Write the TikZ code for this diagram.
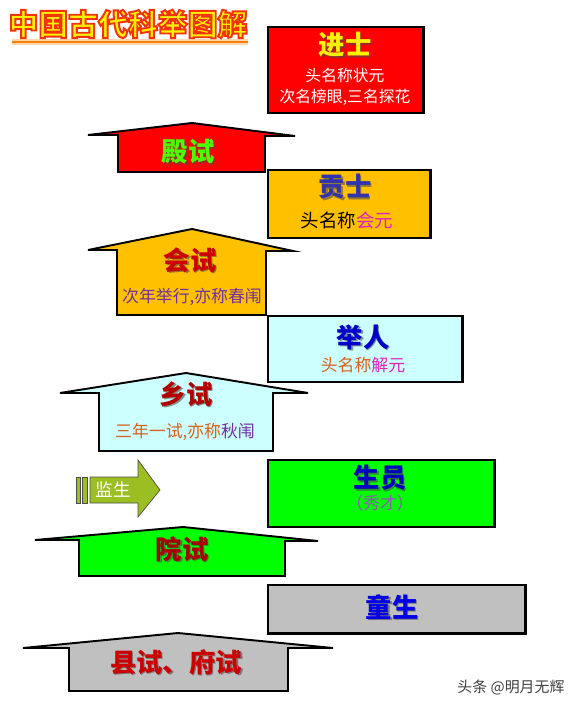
\documentclass[tikz,border=0pt]{standalone}
\usepackage{fontspec}
\setmainfont{Noto Sans CJK SC}

\definecolor{boxred}{HTML}{FF0000}
\definecolor{boxgold}{HTML}{FFC000}
\definecolor{boxcyan}{HTML}{CCFFFF}
\definecolor{boxgreen}{HTML}{00FF00}
\definecolor{boxgray}{HTML}{C0C0C0}
\definecolor{olivearrow}{HTML}{9BBE22}
\definecolor{titlepurple}{HTML}{7030A0}
\definecolor{titleorange}{HTML}{D9601A}
\definecolor{titlemagenta}{HTML}{E020C0}

\tikzset{
  stagebox/.style={draw=black, line width=1.7pt},
  roof/.style={draw=black, line width=1.1pt, line join=miter},
  head/.style={font=\bfseries\fontsize{15}{15}\selectfont},
  sub/.style={font=\fontsize{9.6}{10}\selectfont},
}
% heading with a soft drop shadow: name, x, y, colour, text
\newcommand{\shtext}[5]{%
  \node[head, text=black!70, opacity=0.6] at (#2+1.5,#3+1.5) {#5};
  \node[head, text=#4] (#1) at (#2,#3) {#5};}
% outlined title text (fill yellow, stroke red)
\newcommand{\outlined}[1]{%
  \special{pdf:literal direct 0.95 0.2 0.05 RG 1.1 w 2 Tr}#1\special{pdf:literal direct 0 Tr}}

\begin{document}
\begin{tikzpicture}[x=0.02cm,y=-0.02cm]
\useasboundingbox (0,0) rectangle (575,719);

% title
\draw[orange!60, line width=3pt, opacity=0.5] (12,42) -- (248,42);
\draw[orange, line width=1.4pt] (12,42) -- (248,42);
\node[font=\bfseries\fontsize{17}{17}\selectfont, text=yellow] (title) at (128,24)
  {\outlined{中国古代科举图解}};

% upper stage boxes
\draw[stagebox, fill=boxred]   (268,27)  rectangle (423,113);
\draw[stagebox, fill=boxgold]  (268,170) rectangle (430,238);
\draw[stagebox, fill=boxcyan]  (268,316) rectangle (462,382);
\draw[stagebox, fill=boxgreen] (268,460) rectangle (494,527);
\draw[stagebox, fill=boxgray]  (268,585) rectangle (525,633);

\shtext{jinshi}{345}{45}{yellow}{进士}
\node[sub, font=\fontsize{9}{9}\selectfont, text=white] (jinshiA) at (345,75) {头名称状元};
\node[sub, font=\fontsize{9}{9}\selectfont, text=white] (jinshiB) at (345,97) {次名榜眼,三名探花};

\shtext{gongshi}{345}{187}{blue!60!black!80}{贡士}
\node[sub, font=\fontsize{10.5}{11}\selectfont] (gongshiA) at (347,220) {头名称\textcolor{titlemagenta}{会元}};

\shtext{juren}{363}{337}{blue!80!black}{举人}
\node[sub, text=titleorange] (jurenA) at (363,365) {头名称\textcolor{titlemagenta}{解元}};

\shtext{shengyuan}{380}{478}{blue!75!black}{生员}
\node[sub, text=titlepurple!80] (shengyuanA) at (380,503) {（秀才）};

\shtext{tongsheng}{392}{607}{blue!90!black}{童生}

% upward exam arrows
\draw[roof, fill=boxred]   (118,172) -- (118,135) -- (88,135) -- (192,123) -- (295,136) -- (265,136) -- (265,172) -- cycle;
\shtext{dianshi}{188}{152}{green!70!yellow}{殿试}

\draw[roof, fill=boxgold]  (117,315) -- (117,250) -- (88,250) -- (192,229) -- (293,251) -- (266,251) -- (266,315) -- cycle;
\shtext{huishi}{190}{260}{red!80!black}{会试}
\node[sub, text=titlepurple] (huishiA) at (192,297) {次年举行,亦称春闱};

\draw[roof, fill=boxcyan]  (99,451) -- (99,393) -- (60,393) -- (186,373) -- (308,393) -- (273,393) -- (273,451) -- cycle;
\shtext{xiangshi}{186}{394}{red!70!black}{乡试}
\node[sub, text=titleorange] (xiangshiA) at (185,432) {三年一试,亦称\textcolor{titlepurple}{秋闱}};

\draw[roof, fill=boxgreen] (79,576) -- (79,540) -- (35,540) -- (183,527) -- (318,541) -- (285,541) -- (285,576) -- cycle;
\shtext{yuanshi}{182}{549}{red!65!black}{院试}

\draw[roof, fill=boxgray]  (69,691) -- (69,648) -- (23,648) -- (178,633) -- (333,648) -- (288,648) -- (288,691) -- cycle;
\shtext{xianshi}{176}{662}{red!80!black}{县试、府试}

% side entry arrow
\draw[draw=black!70, fill=olivearrow] (76,477) rectangle (80,503);
\draw[draw=black!70, fill=olivearrow] (82,477) rectangle (87,503);
\draw[draw=black!70, fill=olivearrow] (90,477) -- (138,477) -- (138,460) -- (160,490) -- (138,517) -- (138,503) -- (90,503) -- cycle;
\node[font=\fontsize{10}{10}\selectfont, text=white] (jiansheng) at (113,490) {监生};

% watermark
\node[font=\fontsize{8.5}{9}\selectfont, text=black!75] (mark) at (511,687) {头条 @明月无辉};
\end{tikzpicture}
\end{document}
